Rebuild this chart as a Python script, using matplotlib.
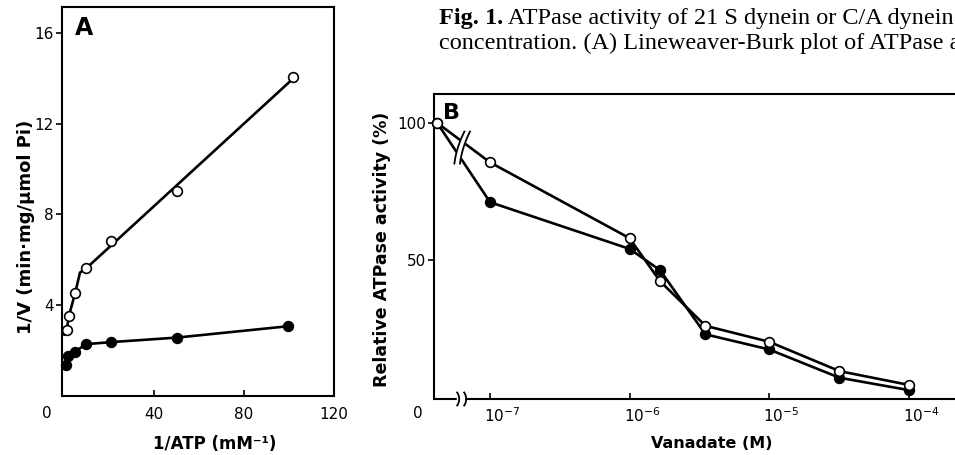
import matplotlib
matplotlib.use("Agg")
import matplotlib.pyplot as plt
import numpy as np
from matplotlib.transforms import IdentityTransform, ScaledTranslation

# ---- panel A: Lineweaver-Burk plot ----
inv_atp_open = [1.1, 2.1, 4.9, 9.8, 20.8, 50.2, 101.6]
inv_v_open = [2.91, 3.54, 4.56, 5.63, 6.84, 9.03, 14.05]
inv_atp_filled = [0.7, 1.8, 4.8, 9.7, 20.8, 50.2, 99.7]
inv_v_filled = [1.37, 1.78, 1.96, 2.29, 2.38, 2.58, 3.08]
# hand drawn curve through the open circles (knots)
curve_open_x = [0, 1.1, 2.1, 4.9, 7.0, 9.8, 100.3]
curve_open_y = [2.7, 2.91, 3.54, 4.56, 5.44, 5.63, 13.84]

# ---- panel B: vanadate inhibition ----
vanadate_M = [0, 1e-7, 1e-6, 1.65e-6, 3.5e-6, 1e-5, 3.2e-5, 1e-4]
activity_open = [100, 85.6, 58.0, 42.4, 26.1, 20.3, 9.6, 4.6]
activity_filled = [100, 71.1, 54.1, 46.4, 23.0, 17.5, 7.2, 2.7]
vanadate_ticks = [1e-7, 1e-6, 1e-5, 1e-4]
zero_drawn_at = 10 ** -7.38   # zero concentration sits left of the axis break
break_at = 10 ** -7.2

caption_bold = "Fig. 1."
caption_line1 = " ATPase activity of 21 S dynein or C/A dynein"
caption_line2 = "concentration. (A) Lineweaver-Burk plot of ATPase a"

W, H = 955, 455
plt.rcParams['font.family'] = ['DejaVu Sans']
fig = plt.figure(figsize=(W / 100, H / 100), dpi=100)


def px_axes(left, top, right, bottom):
    return fig.add_axes([left / W, 1 - bottom / H, (right - left) / W, (bottom - top) / H])


LW = 1.9
line_kw = dict(color='black', lw=LW, solid_capstyle='round', zorder=2)
open_kw = dict(marker='o', ms=7, mfc='white', mec='black', mew=1.2, ls='none', zorder=5, clip_on=False)
fill_kw = dict(marker='o', ms=7, mfc='black', mec='black', mew=1.2, ls='none', zorder=5, clip_on=False)


def style_axes(ax, xpad=8):
    for s in ax.spines.values():
        s.set_linewidth(1.5)
    ax.tick_params(axis='y', direction='out', length=4, width=1.2, pad=2, labelsize=11)
    ax.tick_params(axis='x', direction='in', length=4, width=1.2, pad=xpad, labelsize=11)


# ---------------- A ----------------
axA = px_axes(62, 6.7, 334, 396.2)
axA.plot(curve_open_x, curve_open_y, **line_kw)
axA.plot(inv_atp_filled, inv_v_filled, **line_kw)
axA.plot(inv_atp_open, inv_v_open, **open_kw)
axA.plot(inv_atp_filled, inv_v_filled, **fill_kw)
axA.set_xlim(-1.0, 120)
axA.set_ylim(0, 17.14)
axA.set_xticks([40, 80, 120])
axA.set_yticks([4, 8, 12, 16])
style_axes(axA)
axA.set_xlabel("1/ATP (mM\u207b\u00b9)", fontsize=12, fontweight='bold')
axA.xaxis.set_label_coords(0.5625, -0.1)
axA.set_ylabel("1/V (min\u00b7mg/\u00b5mol Pi)", fontsize=13, fontweight='bold')
axA.yaxis.set_label_coords(-0.1, 0.435)
axA.text(0.048, 0.975, "A", transform=axA.transAxes, fontsize=17, fontweight='bold', va='top', ha='left')
fig.text(46.7 / W, 1 - 413 / H, "0", fontsize=11, ha='center', va='center')

# ---------------- B ----------------
axB = px_axes(434.3, 94, 1000, 399)
vx = [zero_drawn_at if v == 0 else v for v in vanadate_M]
axB.set_xscale('log')
axB.plot(vx, activity_open, **line_kw)
axB.plot(vx, activity_filled, **line_kw)
axB.plot(vx, activity_filled, **fill_kw)
axB.plot(vx, activity_open, **open_kw)
axB.set_xlim(10 ** -7.40, 10 ** -3.344)
axB.set_ylim(-0.55, 110.5)
axB.set_xticks(vanadate_ticks)
axB.set_xticklabels([f"$10^{{{int(np.log10(t))}}}$" for t in vanadate_ticks])
axB.xaxis.set_minor_locator(matplotlib.ticker.NullLocator())
axB.set_yticks([50, 100])
style_axes(axB, xpad=5)
for lab in axB.get_xticklabels():
    lab.set_ha('left')
    lab.set_transform(lab.get_transform() + ScaledTranslation(-6 / 100, 0, fig.dpi_scale_trans))
axB.set_xlabel("Vanadate (M)", fontsize=11.5, fontweight='bold')
axB.xaxis.set_label_coords(0.491, -0.12)
axB.set_ylabel("Relative ATPase activity (%)", fontsize=12.5, fontweight='bold')
axB.yaxis.set_label_coords(-0.0765, 0.489)
axB.text(0.016, 0.97, "B", transform=axB.transAxes, fontsize=16, fontweight='bold', va='top', ha='left')
fig.text(418.3 / W, 1 - 413 / H, "0", fontsize=11, ha='center', va='center')

# axis breaks, drawn in pixel space
ident = IdentityTransform()
t = np.linspace(-1, 1, 25)
cx, cy = axB.transData.transform((break_at, 91))
c1x = cx - 2.8 + 5 * t - 1.5 * (1 - t ** 2)
c2x = cx + 2.8 + 5 * t - 1.5 * (1 - t ** 2)
cyy = cy + 16 * t
axB.fill(np.r_[c1x, c2x[::-1]], np.r_[cyy, cyy[::-1]], color='white', transform=ident, zorder=3, clip_on=False)
axB.plot(c1x, cyy, color='black', lw=1.3, transform=ident, zorder=4, clip_on=False)
axB.plot(c2x, cyy, color='black', lw=1.3, transform=ident, zorder=4, clip_on=False)

sx = axB.transData.transform((break_at, 0))[0] - 1.5
sy = axB.transAxes.transform((0, 0))[1]
axB.fill([sx - 3.5, sx + 3.5, sx + 3.5, sx - 3.5], [sy - 2, sy - 2, sy + 2, sy + 2], color='white',
         transform=ident, zorder=6, clip_on=False)
for off in (-3.5, 3.5):
    axB.plot(sx + off + 2 * (1 - t ** 2), sy + 6.5 * t, color='black', lw=1.3, transform=ident,
             zorder=7, clip_on=False)

# caption
t1 = fig.text(439 / W, 1 - 24 / H, caption_bold, fontfamily='Liberation Serif', fontweight='bold',
              fontsize=17.5, va='baseline', ha='left')
renderer = fig.canvas.get_renderer()
bb = t1.get_window_extent(renderer=renderer)
fig.text(bb.x1 / W, 1 - 24 / H, caption_line1, fontfamily='Liberation Serif', fontsize=17.5,
         va='baseline', ha='left')
fig.text(439 / W, 1 - 49 / H, caption_line2, fontfamily='Liberation Serif', fontsize=17.5,
         va='baseline', ha='left')

fig.savefig("out.png", dpi=100)
